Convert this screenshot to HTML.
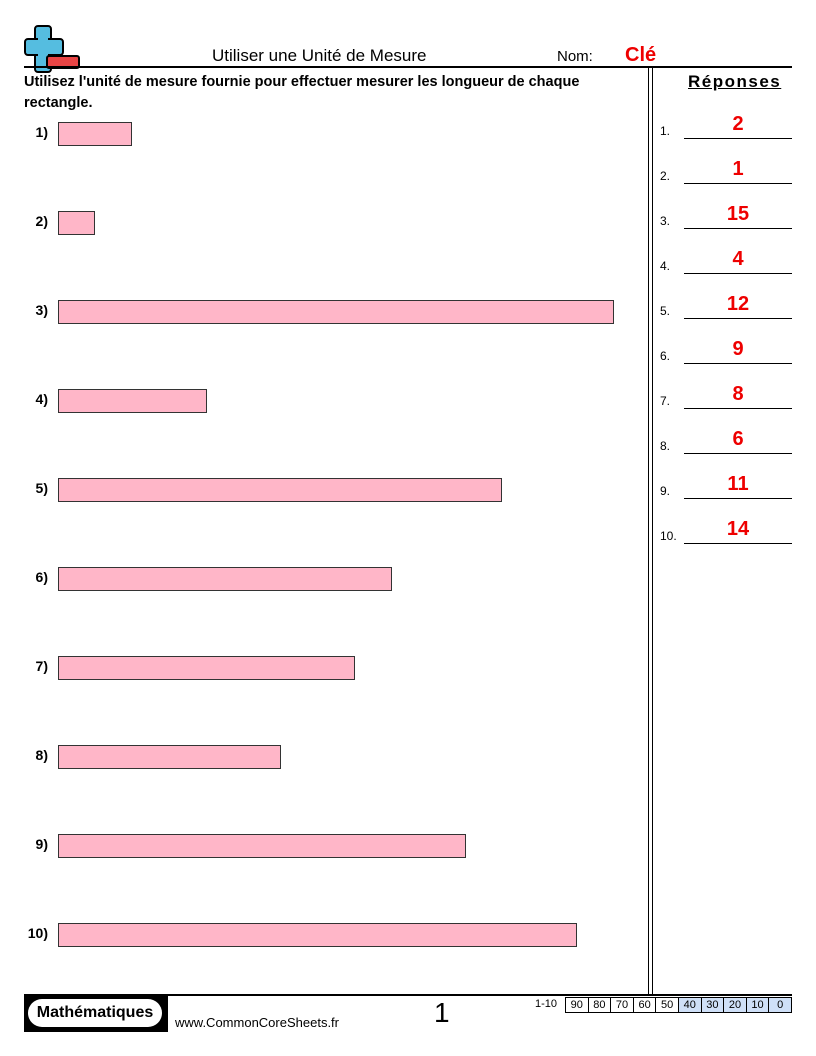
<!DOCTYPE html>
<html><head><meta charset="utf-8"><style>
body{margin:0;width:816px;height:1056px;background:#fff;position:relative;font-family:"Liberation Sans",sans-serif;overflow:hidden}
.a{position:absolute}
.r{position:absolute;left:58px;height:24px;background:#ffb6c8;border:1px solid #333;box-sizing:border-box}
.l{position:absolute;width:48px;text-align:right;left:0;font-weight:bold;font-size:14px}
.n{position:absolute;left:660px;font-size:12px}
.ln{position:absolute;left:684px;width:108px;border-top:1px solid #000}
.ans{position:absolute;left:684px;width:108px;text-align:center;color:#e00;font-weight:bold;font-size:20px}
td{border:1px solid #000;width:21px;height:15px;font-size:11px;text-align:center;padding:0;box-sizing:border-box}
</style></head><body>
<div class="a" style="left:34px;top:25px;width:14px;height:44px;background:#55bde0;border:2px solid #000;border-radius:4px"></div>
<div class="a" style="left:24px;top:38px;width:36px;height:14px;background:#55bde0;border:2px solid #000;border-radius:4px"></div>
<div class="a" style="left:38px;top:27px;width:10px;height:40px;background:#55bde0"></div>
<div class="a" style="left:46px;top:55px;width:30px;height:10px;background:#e84545;border:2px solid #000;border-radius:3px"></div>
<div class="a" style="left:212px;top:46px;font-size:17px">Utiliser une Unité de Mesure</div>
<div class="a" style="left:557px;top:48px;font-size:15px">Nom:</div>
<div class="a" style="left:625px;top:44px;font-size:20px;color:#e00;font-weight:bold">Clé</div>
<div class="a" style="left:24px;top:66px;width:768px;height:2px;background:#000"></div>
<div class="a" style="left:24px;top:72px;width:600px;font-size:14.5px;font-weight:bold;line-height:21px">Utilisez l'unité de mesure fournie pour effectuer mesurer les longueur de chaque rectangle.</div>
<div class="a" style="left:688px;top:72px;font-size:17px;font-weight:bold;text-decoration:underline;letter-spacing:1.5px">Réponses</div>
<div class="a" style="left:648px;top:68px;width:1px;height:927px;background:#000"></div>
<div class="a" style="left:652px;top:68px;width:1px;height:927px;background:#000"></div>
<div class="a" style="left:24px;top:994px;width:768px;height:2px;background:#000"></div>

<div class="l" style="top:124px">1)</div><div class="r" style="top:122px;width:74px"></div>
<div class="l" style="top:213px">2)</div><div class="r" style="top:211px;width:37px"></div>
<div class="l" style="top:302px">3)</div><div class="r" style="top:300px;width:556px"></div>
<div class="l" style="top:391px">4)</div><div class="r" style="top:389px;width:149px"></div>
<div class="l" style="top:480px">5)</div><div class="r" style="top:478px;width:444px"></div>
<div class="l" style="top:569px">6)</div><div class="r" style="top:567px;width:334px"></div>
<div class="l" style="top:658px">7)</div><div class="r" style="top:656px;width:297px"></div>
<div class="l" style="top:747px">8)</div><div class="r" style="top:745px;width:223px"></div>
<div class="l" style="top:836px">9)</div><div class="r" style="top:834px;width:408px"></div>
<div class="l" style="top:925px">10)</div><div class="r" style="top:923px;width:519px"></div>

<div class="n" style="top:124px">1.</div><div class="ans" style="top:113px">2</div><div class="ln" style="top:138px"></div>
<div class="n" style="top:169px">2.</div><div class="ans" style="top:158px">1</div><div class="ln" style="top:183px"></div>
<div class="n" style="top:214px">3.</div><div class="ans" style="top:203px">15</div><div class="ln" style="top:228px"></div>
<div class="n" style="top:259px">4.</div><div class="ans" style="top:248px">4</div><div class="ln" style="top:273px"></div>
<div class="n" style="top:304px">5.</div><div class="ans" style="top:293px">12</div><div class="ln" style="top:318px"></div>
<div class="n" style="top:349px">6.</div><div class="ans" style="top:338px">9</div><div class="ln" style="top:363px"></div>
<div class="n" style="top:394px">7.</div><div class="ans" style="top:383px">8</div><div class="ln" style="top:408px"></div>
<div class="n" style="top:439px">8.</div><div class="ans" style="top:428px">6</div><div class="ln" style="top:453px"></div>
<div class="n" style="top:484px">9.</div><div class="ans" style="top:473px">11</div><div class="ln" style="top:498px"></div>
<div class="n" style="top:529px">10.</div><div class="ans" style="top:518px">14</div><div class="ln" style="top:543px"></div>

<div class="a" style="left:24px;top:996px;width:144px;height:36px;background:#000"></div>
<div class="a" style="left:28px;top:999px;width:134px;height:28px;background:#fff;border-radius:14px;text-align:center;font-weight:bold;font-size:16px;line-height:28px">Mathématiques</div>
<div class="a" style="left:175px;top:1015px;font-size:13px">www.CommonCoreSheets.fr</div>
<div class="a" style="left:434px;top:997px;font-size:28px">1</div>
<div class="a" style="left:535px;top:998px;font-size:11px">1-10</div>
<table class="a" style="left:565px;top:997px;border-collapse:collapse;table-layout:fixed;width:227px"><tr>
<td>90</td><td>80</td><td>70</td><td>60</td><td>50</td><td style="background:#cfe0f8">40</td><td style="background:#cfe0f8">30</td><td style="background:#cfe0f8">20</td><td style="background:#cfe0f8">10</td><td style="background:#cfe0f8">0</td></tr></table>
</body></html>
